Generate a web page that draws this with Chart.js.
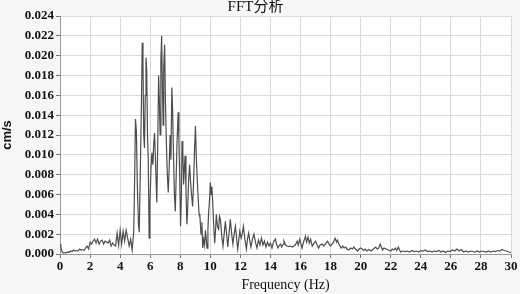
<!DOCTYPE html>
<html>
<head>
<meta charset="utf-8">
<script src="https://cdn.jsdelivr.net/npm/chart.js@4/dist/chart.umd.min.js"></script>
<style>
  html, body { margin: 0; padding: 0; background: #f6f6f6; }
  #wrap { width: 520px; height: 294px; }
</style>
</head>
<body>
<div id="wrap"><canvas id="fft" width="520" height="294"></canvas></div>
<script>
// Spectrum: frequency (Hz) and amplitude (cm/s)
const freqHz = [
  0, 0.05, 0.12, 0.2, 0.3, 0.4, 0.5, 0.6, 0.7, 0.8,
  0.9, 1.0, 1.1, 1.2, 1.3, 1.4, 1.5, 1.6, 1.7, 1.8,
  1.9, 2.0, 2.1, 2.2, 2.3, 2.4, 2.5, 2.6, 2.7, 2.8,
  2.9, 3.0, 3.1, 3.2, 3.3, 3.4, 3.5, 3.6, 3.7, 3.8,
  3.9, 4.0, 4.1, 4.2, 4.3, 4.4, 4.5, 4.6, 4.7, 4.8,
  4.9, 4.95, 5.02, 5.08, 5.15, 5.22, 5.27, 5.35, 5.42, 5.47,
  5.52, 5.57, 5.62, 5.67, 5.72, 5.77, 5.82, 5.87, 5.93, 5.98,
  6.05, 6.11, 6.18, 6.23, 6.29, 6.35, 6.40, 6.44, 6.50, 6.56,
  6.61, 6.66, 6.71, 6.76, 6.81, 6.86, 6.90, 6.96, 7.01, 7.08,
  7.14, 7.20, 7.26, 7.32, 7.38, 7.44, 7.49, 7.55, 7.61, 7.67,
  7.73, 7.79, 7.86, 7.91, 7.96, 8.02, 8.07, 8.12, 8.17, 8.22,
  8.27, 8.32, 8.38, 8.44, 8.49, 8.56, 8.62, 8.68, 8.75, 8.82,
  8.88, 8.95, 9.01, 9.06, 9.12, 9.18, 9.25, 9.31, 9.38, 9.44,
  9.49, 9.56, 9.62, 9.67, 9.73, 9.78, 9.84, 9.89, 9.95, 10.0,
  10.05, 10.1, 10.15, 10.22, 10.29, 10.35, 10.4, 10.47, 10.55, 10.61,
  10.67, 10.75, 10.84, 10.92, 11.0, 11.08, 11.16, 11.25, 11.33, 11.42,
  11.5, 11.58, 11.67, 11.75, 11.82, 11.9, 11.96, 12.05, 12.12, 12.2,
  12.3, 12.4, 12.47, 12.55, 12.62, 12.7, 12.8, 12.9, 13.0, 13.1,
  13.2, 13.3, 13.4, 13.5, 13.6, 13.7, 13.8, 13.9, 14.0, 14.1,
  14.2, 14.33, 14.4, 14.5, 14.6, 14.67, 14.75, 14.85, 14.9, 15.0,
  15.1, 15.2, 15.3, 15.45, 15.55, 15.65, 15.78, 15.85, 15.95, 16.05,
  16.1, 16.2, 16.33, 16.4, 16.5, 16.58, 16.67, 16.78, 16.9, 17.0,
  17.1, 17.2, 17.3, 17.45, 17.55, 17.65, 17.8, 17.9, 18.0, 18.1,
  18.2, 18.3, 18.4, 18.45, 18.55, 18.7, 18.8, 18.9, 19.0, 19.1,
  19.2, 19.35, 19.45, 19.55, 19.65, 19.8, 19.9, 20.0, 20.1, 20.2,
  20.3, 20.4, 20.55, 20.7, 20.85, 21.0, 21.1, 21.2, 21.3, 21.4,
  21.45, 21.55, 21.7, 21.85, 22.0, 22.1, 22.2, 22.3, 22.4, 22.5,
  22.65, 22.8, 22.95, 23.1, 23.25, 23.4, 23.55, 23.7, 23.85, 24.0,
  24.15, 24.3, 24.45, 24.6, 24.75, 24.9, 25.05, 25.2, 25.35, 25.5,
  25.65, 25.8, 25.95, 26.1, 26.25, 26.4, 26.55, 26.7, 26.85, 27.0,
  27.15, 27.3, 27.45, 27.6, 27.75, 27.9, 28.05, 28.2, 28.35, 28.5,
  28.65, 28.8, 28.95, 29.1, 29.25, 29.4, 29.55, 29.7, 29.85, 30.0
];

const ampCms = [
  0.0010, 0.0008, 0.0003, 0.0001, 0.00015, 0.0001, 0.0002, 0.00015, 0.0003, 0.00025,
  0.0004, 0.0003, 0.00035, 0.0003, 0.0005, 0.0004, 0.00045, 0.00035, 0.0006, 0.0008,
  0.0005, 0.0012, 0.0010, 0.0013, 0.0015, 0.0011, 0.0015, 0.0010, 0.0013, 0.0014,
  0.0010, 0.0013, 0.0012, 0.0011, 0.0014, 0.0008, 0.0011, 0.0009, 0.0008, 0.0021,
  0.0009, 0.0024, 0.0010, 0.0023, 0.0013, 0.0024, 0.0016, 0.0008, 0.0015, 0.0004,
  0.0022, 0.0060, 0.0136, 0.0124, 0.0065, 0.0030, 0.0022, 0.0090, 0.0155, 0.0213,
  0.0190, 0.0120, 0.0107, 0.0160, 0.0198, 0.0185, 0.0120, 0.0095, 0.0016, 0.0050,
  0.0085, 0.0102, 0.0090, 0.0110, 0.0122, 0.0095, 0.0070, 0.0052, 0.0110, 0.0180,
  0.0155, 0.0120, 0.0195, 0.0220, 0.0170, 0.0130, 0.0188, 0.0211, 0.0156, 0.0110,
  0.0080, 0.0062, 0.0085, 0.0120, 0.0095, 0.0168, 0.0145, 0.0100, 0.0060, 0.0043,
  0.0080, 0.0115, 0.0143, 0.0117, 0.0080, 0.0028, 0.0055, 0.0114, 0.0104, 0.0070,
  0.0085, 0.0099, 0.0065, 0.0030, 0.0045, 0.0075, 0.0090, 0.0074, 0.0060, 0.0048,
  0.0070, 0.0105, 0.0129, 0.0100, 0.0078, 0.0060, 0.0040, 0.0037, 0.0020, 0.0032,
  0.0006, 0.0015, 0.0009, 0.0024, 0.0015, 0.0006, 0.0025, 0.0043, 0.0055, 0.0072,
  0.0060, 0.0068, 0.0055, 0.0030, 0.0011, 0.0025, 0.0040, 0.0028, 0.0025, 0.0038,
  0.0035, 0.0020, 0.0008, 0.0020, 0.0033, 0.0020, 0.0007, 0.0022, 0.0035, 0.0020,
  0.0010, 0.0020, 0.0028, 0.0015, 0.0005, 0.0015, 0.0023, 0.0016, 0.0020, 0.0028,
  0.0015, 0.0005, 0.0015, 0.0021, 0.0014, 0.0007, 0.0015, 0.0020, 0.0012, 0.0006,
  0.0014, 0.0009, 0.0016, 0.0009, 0.0013, 0.0007, 0.0012, 0.0008, 0.0011, 0.0006,
  0.0012, 0.0015, 0.0010, 0.0006, 0.0009, 0.0010, 0.0007, 0.0010, 0.0013, 0.0009,
  0.0008, 0.00075, 0.0008, 0.0007, 0.0008, 0.0009, 0.0013, 0.0009, 0.0015, 0.0009,
  0.0006, 0.0012, 0.0018, 0.0012, 0.0017, 0.0011, 0.0015, 0.0008, 0.0011, 0.0013,
  0.0009, 0.0006, 0.0009, 0.0010, 0.0008, 0.0010, 0.0013, 0.0010, 0.0008, 0.0010,
  0.0012, 0.0016, 0.0012, 0.0014, 0.0010, 0.0006, 0.0008, 0.0006, 0.0007, 0.0005,
  0.0004, 0.0006, 0.0005, 0.0007, 0.0005, 0.0003, 0.0005, 0.0006, 0.0005, 0.00035,
  0.0005, 0.0003, 0.00045, 0.0003, 0.0005, 0.0007, 0.0005, 0.0006, 0.0010, 0.0006,
  0.0004, 0.0006, 0.0005, 0.0004, 0.0003, 0.0005, 0.0004, 0.0006, 0.00035, 0.0007,
  0.0002, 0.0003, 0.00025, 0.0003, 0.0002, 0.00035, 0.00025, 0.0003, 0.0002, 0.00035,
  0.0003, 0.0004, 0.00025, 0.0003, 0.0002, 0.0003, 0.00025, 0.00035, 0.0002, 0.0003,
  0.00015, 0.0003, 0.00025, 0.0004, 0.0003, 0.0005, 0.0003, 0.00045, 0.0002, 0.0003,
  0.0002, 0.0003, 0.00025, 0.0002, 0.0003, 0.0002, 0.0003, 0.00025, 0.0002, 0.0003,
  0.0002, 0.0003, 0.00025, 0.00035, 0.0003, 0.00045, 0.00035, 0.0003, 0.0002, 0.00015
];

// Axis settings
const xMin = 0, xMax = 30, xStep = 2;
const yMin = 0, yMax = 0.024, yStep = 0.002;

const serif = "'Liberation Serif', 'Times New Roman', serif";

// White plot area on a light grey page
const bgPlugin = {
    id: 'bg',
    beforeDraw(chart) {
        const { ctx, chartArea: a } = chart;
        ctx.save();
        ctx.fillStyle = '#f6f6f6';
        ctx.fillRect(0, 0, chart.width, chart.height);
        ctx.fillStyle = '#ffffff';
        ctx.fillRect(a.left, a.top, a.right - a.left, a.bottom - a.top);
        ctx.restore();
    }
};

const ctx = document.getElementById('fft').getContext('2d');

new Chart(ctx, {
    type: 'line',
    data: {
        datasets: [{
            label: 'FFT',
            data: freqHz.map((f, i) => ({ x: f, y: ampCms[i] })),
            borderColor: '#4d4d4d',
            borderWidth: 1.2,
            pointRadius: 0,
            tension: 0,
            fill: false
        }]
    },
    options: {
        responsive: false,
        animation: false,
        devicePixelRatio: 1,
        layout: { padding: { left: 0, right: 9, top: 0, bottom: 0 } },
        plugins: {
            legend: { display: false },
            tooltip: { enabled: false },
            title: {
                display: true,
                text: 'FFT分析',
                color: '#111111',
                font: { family: serif + ", 'Noto Sans CJK SC'", size: 15, weight: 'normal', lineHeight: 1.0 },
                padding: { top: 0, bottom: 1 }
            }
        },
        scales: {
            x: {
                type: 'linear',
                min: xMin,
                max: xMax,
                afterFit: s => { s.height = 40; },
                ticks: {
                    stepSize: xStep,
                    color: '#111111',
                    font: { family: serif, size: 13, weight: 'bold' },
                    padding: 1,
                    maxRotation: 0
                },
                grid: { color: '#d9d9d9', tickColor: '#777777', tickLength: 4 },
                border: { color: '#9a9a9a' },
                title: {
                    display: true,
                    text: 'Frequency (Hz)',
                    color: '#111111',
                    font: { family: serif, size: 14 },
                    padding: 0
                }
            },
            y: {
                min: yMin,
                max: yMax,
                afterFit: s => { s.width = 60; },
                ticks: {
                    stepSize: yStep,
                    color: '#111111',
                    font: { family: serif, size: 13, weight: 'bold' },
                    padding: 2,
                    callback: v => v.toFixed(3)
                },
                grid: { color: '#d9d9d9', tickColor: '#777777', tickLength: 4 },
                border: { color: '#9a9a9a' },
                title: {
                    display: true,
                    text: 'cm/s',
                    color: '#111111',
                    font: { family: "'Liberation Sans', Arial, sans-serif", size: 13, weight: 'bold' },
                    padding: 0
                }
            }
        }
    },
    plugins: [bgPlugin]
});
</script>
</body>
</html>
